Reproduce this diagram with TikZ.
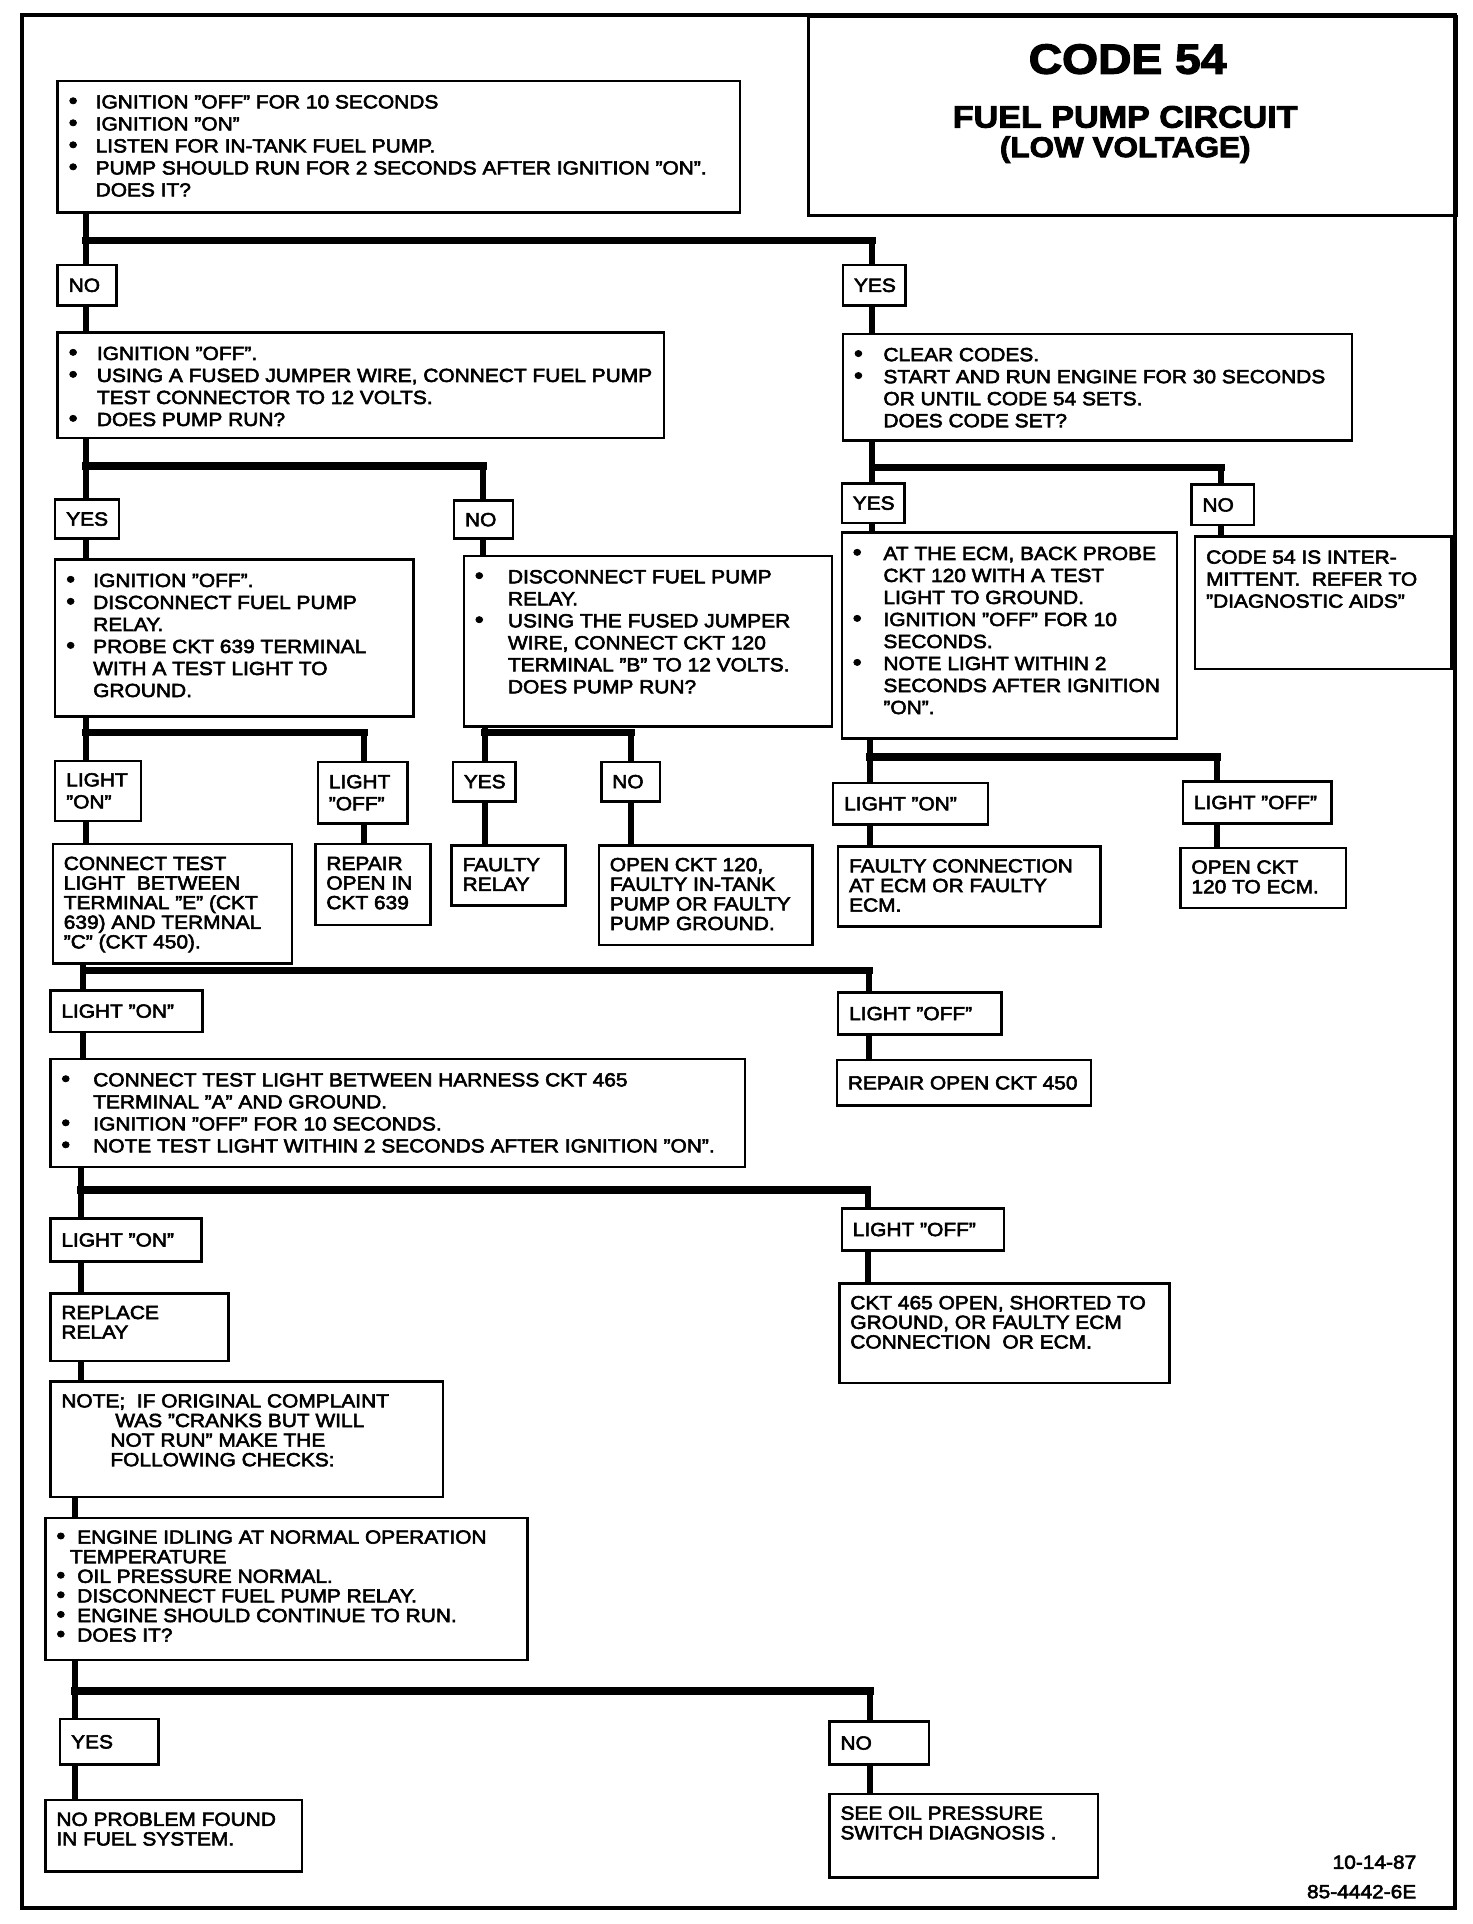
\documentclass[tikz,border=0pt]{standalone}
\usepackage{fontspec}
\setmainfont{Liberation Sans}[FakeStretch=1.1, FakeBold=3]
\usepackage{tikz}
\newlength\ux \setlength\ux{0.6133pt}
\newlength\bxs \setlength\bxs{5.5pt}
\newlength\bys \setlength\bys{6pt}
\newcommand{\boxfont}{\fontsize{9.5}{11}\selectfont}
\newcommand{\tightfont}{\fontsize{9.5}{9.8}\selectfont}
\newcommand{\bx}[3]{\parbox[t][\dimexpr#2\ux-2\bys\relax][t]{\dimexpr#1\ux-2\bxs\relax}{\raggedright\let\\\newline#3}}
\newcommand{\tg}[3]{\parbox[t][\dimexpr#2\ux-4pt\relax][c]{\dimexpr#1\ux-2\bxs\relax}{\raggedright#3}}
\newcommand{\dotmark}{\smash{\fontsize{11.5}{0}\selectfont\textbullet}}
\newcommand{\bul}[2][23]{\par\hangindent=#1\ux\hangafter=1\noindent\strut\makebox[#1\ux][l]{\dotmark}#2}
\tikzset{
  box/.style={draw, line width=1.25pt, anchor=north west, inner xsep=\bxs, inner ysep=\bys, font=\boxfont},
  tbox/.style={box, font=\tightfont},
  tag/.style={box, inner ysep=2pt},
  panel/.style={draw, line width=1.5pt, anchor=north west, inner sep=0pt},
  link/.style={line width=3pt},
  branch/.style={line width=3.8pt, line cap=rect}
}
\begin{document}
\begin{tikzpicture}[x=\ux, y=-\ux]
    \useasboundingbox (0,0) rectangle (1200,1568);
    \draw [line width=1.8pt] (18,12) rectangle (1186,1555);

    % Title
    \node (title) [panel, minimum width=528*\ux, minimum height=162*\ux] at (658,12) {};
    \node (code) [anchor=base, font=\bfseries\fontsize{21}{21}\selectfont] at (919,60) {CODE 54};
    \node (circ) [anchor=base, font=\bfseries\fontsize{15.5}{16}\selectfont] at (917,104) {FUEL PUMP CIRCUIT};
    \node (volt) [anchor=base, font=\bfseries\fontsize{14.3}{15}\selectfont] at (917,128) {(LOW VOLTAGE)};

    \node (start) [box] at (46,65) {\bx{556}{107}{%
      \bul[22]{IGNITION "OFF" FOR 10 SECONDS}
      \bul[22]{IGNITION "ON"}
      \bul[22]{LISTEN FOR IN-TANK FUEL PUMP.}
      \bul[22]{PUMP SHOULD RUN FOR 2 SECONDS AFTER IGNITION "ON".\\ DOES IT?}}};

    \node (no1) [tag] at (46,215) {\tg{48}{33}{NO}};
    \node (yes1) [tag] at (686,215) {\tg{51}{33}{YES}};

    \node (jumper) [box] at (46,270) {\bx{494}{86}{%
      \bul{IGNITION "OFF".}
      \bul{USING A FUSED JUMPER WIRE, CONNECT FUEL PUMP\\ TEST CONNECTOR TO 12 VOLTS.}
      \bul{DOES PUMP RUN?}}};

    \node (clear) [box] at (686,271) {\bx{415}{87}{%
      \bul[24]{CLEAR CODES.}
      \bul[24]{START AND RUN ENGINE FOR 30 SECONDS\\ OR UNTIL CODE 54 SETS.\\ DOES CODE SET?}}};

    \node (yes2) [tag] at (44,406) {\tg{52}{32}{YES}};
    \node (no2) [tag] at (369,407) {\tg{48}{31}{NO}};
    \node (yes3) [tag] at (685,393) {\tg{51}{32}{YES}};
    \node (no3) [tag] at (970,394) {\tg{51}{33}{NO}};

    \node (probe) [box] at (44,455) {\bx{292}{128}{%
      \bul[22]{IGNITION "OFF".}
      \bul[22]{DISCONNECT FUEL PUMP\\ RELAY.}
      \bul[22]{PROBE CKT 639 TERMINAL\\ WITH A TEST LIGHT TO\\ GROUND.}}};

    \node (relay) [box] at (377,452) {\bx{300}{139}{%
      \bul[27]{DISCONNECT FUEL PUMP\\ RELAY.}
      \bul[27]{USING THE FUSED JUMPER\\ WIRE, CONNECT CKT 120\\ TERMINAL "B" TO 12 VOLTS.\\ DOES PUMP RUN?}}};

    \node (ecm) [box] at (685,433) {\bx{273}{168}{%
      \bul[25]{AT THE ECM, BACK PROBE\\ CKT 120 WITH A TEST\\ LIGHT TO GROUND.}
      \bul[25]{IGNITION "OFF" FOR 10\\ SECONDS.}
      \bul[25]{NOTE LIGHT WITHIN 2\\ SECONDS AFTER IGNITION\\ "ON".}}};

    \node (inter) [box] at (973,436) {\bx{209}{108}{\strut CODE 54 IS INTER-\\ MITTENT.\ \ REFER TO\\ "DIAGNOSTIC AIDS"}};

    \node (on1) [tag] at (44,619) {\tg{70}{49}{LIGHT\\ "ON"}};
    \node (off1) [tag] at (258,620) {\tg{73}{50}{LIGHT\\ "OFF"}};
    \node (yes4) [tag] at (368,620) {\tg{51}{32}{YES}};
    \node (no4) [tag] at (489,620) {\tg{48}{32}{NO}};
    \node (on2) [tag] at (678,637) {\tg{126}{34}{LIGHT "ON"}};
    \node (off2) [tag] at (963,636) {\tg{121}{34}{LIGHT "OFF"}};

    \node (conn) [tbox] at (42,687) {\bx{195}{97}{\strut CONNECT TEST\\ LIGHT\ \ BETWEEN\\ TERMINAL "E" (CKT\\ 639) AND TERMNAL\\ "C" (CKT 450).}};
    \node (rep639) [tbox] at (256,687) {\bx{94}{66}{\strut REPAIR\\ OPEN IN\\ CKT 639}};
    \node (frelay) [tbox] at (367,688) {\bx{93}{49}{\strut FAULTY\\ RELAY}};
    \node (open120) [tbox] at (487,688) {\bx{174}{81}{\strut OPEN CKT 120,\\ FAULTY IN-TANK\\ PUMP OR FAULTY\\ PUMP GROUND.}};
    \node (fconn) [tbox] at (682,689) {\bx{214}{65}{\strut FAULTY CONNECTION\\ AT ECM OR FAULTY\\ ECM.}};
    \node (ecmopen) [tbox] at (961,690) {\bx{135}{49}{\strut OPEN CKT\\ 120 TO ECM.}};

    \node (on3) [tag] at (40,806) {\tg{124}{34}{LIGHT "ON"}};
    \node (off3) [tag] at (682,808) {\tg{133}{34}{LIGHT "OFF"}};

    \node (harness) [box] at (40,862) {\bx{566}{88}{%
      \bul[26]{CONNECT TEST LIGHT BETWEEN HARNESS CKT 465\\ TERMINAL "A" AND GROUND.}
      \bul[26]{IGNITION "OFF" FOR 10 SECONDS.}
      \bul[26]{NOTE TEST LIGHT WITHIN 2 SECONDS AFTER IGNITION "ON".}}};
    \node (rep450) [tag] at (681,863) {\tg{207}{37}{REPAIR OPEN CKT 450}};

    \node (on4) [tag] at (40,992) {\tg{123}{35}{LIGHT "ON"}};
    \node (off4) [tag] at (685,984) {\tg{132}{34}{LIGHT "OFF"}};

    \node (replace) [tbox] at (40,1053) {\bx{145}{55}{\strut REPLACE\\ RELAY}};
    \node (short) [tbox] at (683,1045) {\bx{269}{81}{\strut CKT 465 OPEN, SHORTED TO\\ GROUND, OR FAULTY ECM\\ CONNECTION\ \ OR ECM.}};

    \node (note) [tbox] at (40,1125) {\bx{320}{94}{\strut NOTE;\ \ IF ORIGINAL COMPLAINT\\ \hspace*{44\ux}WAS "CRANKS BUT WILL\\ \hspace*{40\ux}NOT RUN" MAKE THE\\ \hspace*{40\ux}FOLLOWING CHECKS:}};

    \node (idle) [tbox] at (36,1236) {\bx{393}{116}{%
      \bul[17]{ENGINE IDLING AT NORMAL OPERATION\\ \hspace*{-6\ux}TEMPERATURE}
      \bul[17]{OIL PRESSURE NORMAL.}
      \bul[17]{DISCONNECT FUEL PUMP RELAY.}
      \bul[17]{ENGINE SHOULD CONTINUE TO RUN.}
      \bul[17]{DOES IT?}}};

    \node (yes5) [tag] at (48,1400) {\tg{80}{37}{YES}};
    \node (no5) [tag] at (675,1402) {\tg{81}{35}{NO}};
    \node (nofault) [tbox] at (36,1466) {\bx{209}{58}{\strut NO PROBLEM FOUND\\ IN FUEL SYSTEM.}};
    \node (oil) [tbox] at (675,1461) {\bx{219}{68}{\strut SEE OIL PRESSURE\\ SWITCH DIAGNOSIS .}};

    \node (date) [anchor=base east, font=\boxfont] at (1160,1523) {10-14-87};
    \node (dwg) [anchor=base east, font=\boxfont] at (1160,1547) {85-4442-6E};

    % Junctions
    \coordinate (j1) at (70,196);  \coordinate (j1r) at (711,196);
    \coordinate (j2) at (70,380);  \coordinate (j2r) at (394,380);
    \coordinate (j3) at (711,381); \coordinate (j3r) at (995,381);
    \coordinate (j4) at (70,597);  \coordinate (j4r) at (297,597);
    \coordinate (j5) at (395,597); \coordinate (j5r) at (514,597);
    \coordinate (j6) at (709,617); \coordinate (j6r) at (992,617);
    \coordinate (j7) at (68,791);  \coordinate (j7r) at (708,791);
    \coordinate (j8) at (66,970);  \coordinate (j8r) at (707,970);
    \coordinate (j9) at (61,1378); \coordinate (j9r) at (709,1378);

    % Lines
    \draw [link] (start.south -| j1) -- (no1.north -| j1);
    \draw [branch] (j1) -- (j1r);
    \draw [link] (j1r) -- (yes1.north -| j1r);
    \draw [link] (no1.south -| j1) -- (jumper.north -| j1);
    \draw [link] (yes1.south -| j1r) -- (clear.north -| j1r);

    \draw [link] (jumper.south -| j2) -- (yes2.north -| j2);
    \draw [branch] (j2) -- (j2r);
    \draw [link] (j2r) -- (no2.north -| j2r);
    \draw [link] (yes2.south -| j2) -- (probe.north -| j2);
    \draw [link] (no2.south -| j2r) -- (relay.north -| j2r);

    \draw [link] (clear.south -| j3) -- (yes3.north -| j3);
    \draw [branch] (j3) -- (j3r);
    \draw [link] (j3r) -- (no3.north -| j3r);
    \draw [link] (yes3.south -| j3) -- (ecm.north -| j3);
    \draw [link] (no3.south -| j3r) -- (inter.north -| j3r);

    \draw [link] (probe.south -| j4) -- (on1.north -| j4);
    \draw [branch] (j4) -- (j4r);
    \draw [link] (j4r) -- (off1.north -| j4r);
    \draw [link] (on1.south -| j4) -- (conn.north -| j4);
    \draw [link] (off1.south -| j4r) -- (rep639.north -| j4r);

    \draw [link] (relay.south -| j5) -- (yes4.north -| j5);
    \draw [branch] (j5) -- (j5r);
    \draw [link] (j5r) -- (no4.north -| j5r);
    \draw [link] (yes4.south -| j5) -- (frelay.north -| j5);
    \draw [link] (no4.south -| j5r) -- (open120.north -| j5r);

    \draw [link] (ecm.south -| j6) -- (on2.north -| j6);
    \draw [branch] (j6) -- (j6r);
    \draw [link] (j6r) -- (off2.north -| j6r);
    \draw [link] (on2.south -| j6) -- (fconn.north -| j6);
    \draw [link] (off2.south -| j6r) -- (ecmopen.north -| j6r);

    \draw [link] (conn.south -| j7) -- (on3.north -| j7);
    \draw [branch] (j7) -- (j7r);
    \draw [link] (j7r) -- (off3.north -| j7r);
    \draw [link] (on3.south -| j7) -- (harness.north -| j7);
    \draw [link] (off3.south -| j7r) -- (rep450.north -| j7r);

    \draw [link] (harness.south -| j8) -- (on4.north -| j8);
    \draw [branch] (j8) -- (j8r);
    \draw [link] (j8r) -- (off4.north -| j8r);
    \draw [link] (on4.south -| j8) -- (replace.north -| j8);
    \draw [link] (off4.south -| j8r) -- (short.north -| j8r);
    \draw [link] (replace.south -| j8) -- (note.north -| j8);
    \draw [link] (note.south -| j9) -- (idle.north -| j9);

    \draw [link] (idle.south -| j9) -- (yes5.north -| j9);
    \draw [branch] (j9) -- (j9r);
    \draw [link] (j9r) -- (no5.north -| j9r);
    \draw [link] (yes5.south -| j9) -- (nofault.north -| j9);
    \draw [link] (no5.south -| j9r) -- (oil.north -| j9r);

\end{tikzpicture}
\end{document}
